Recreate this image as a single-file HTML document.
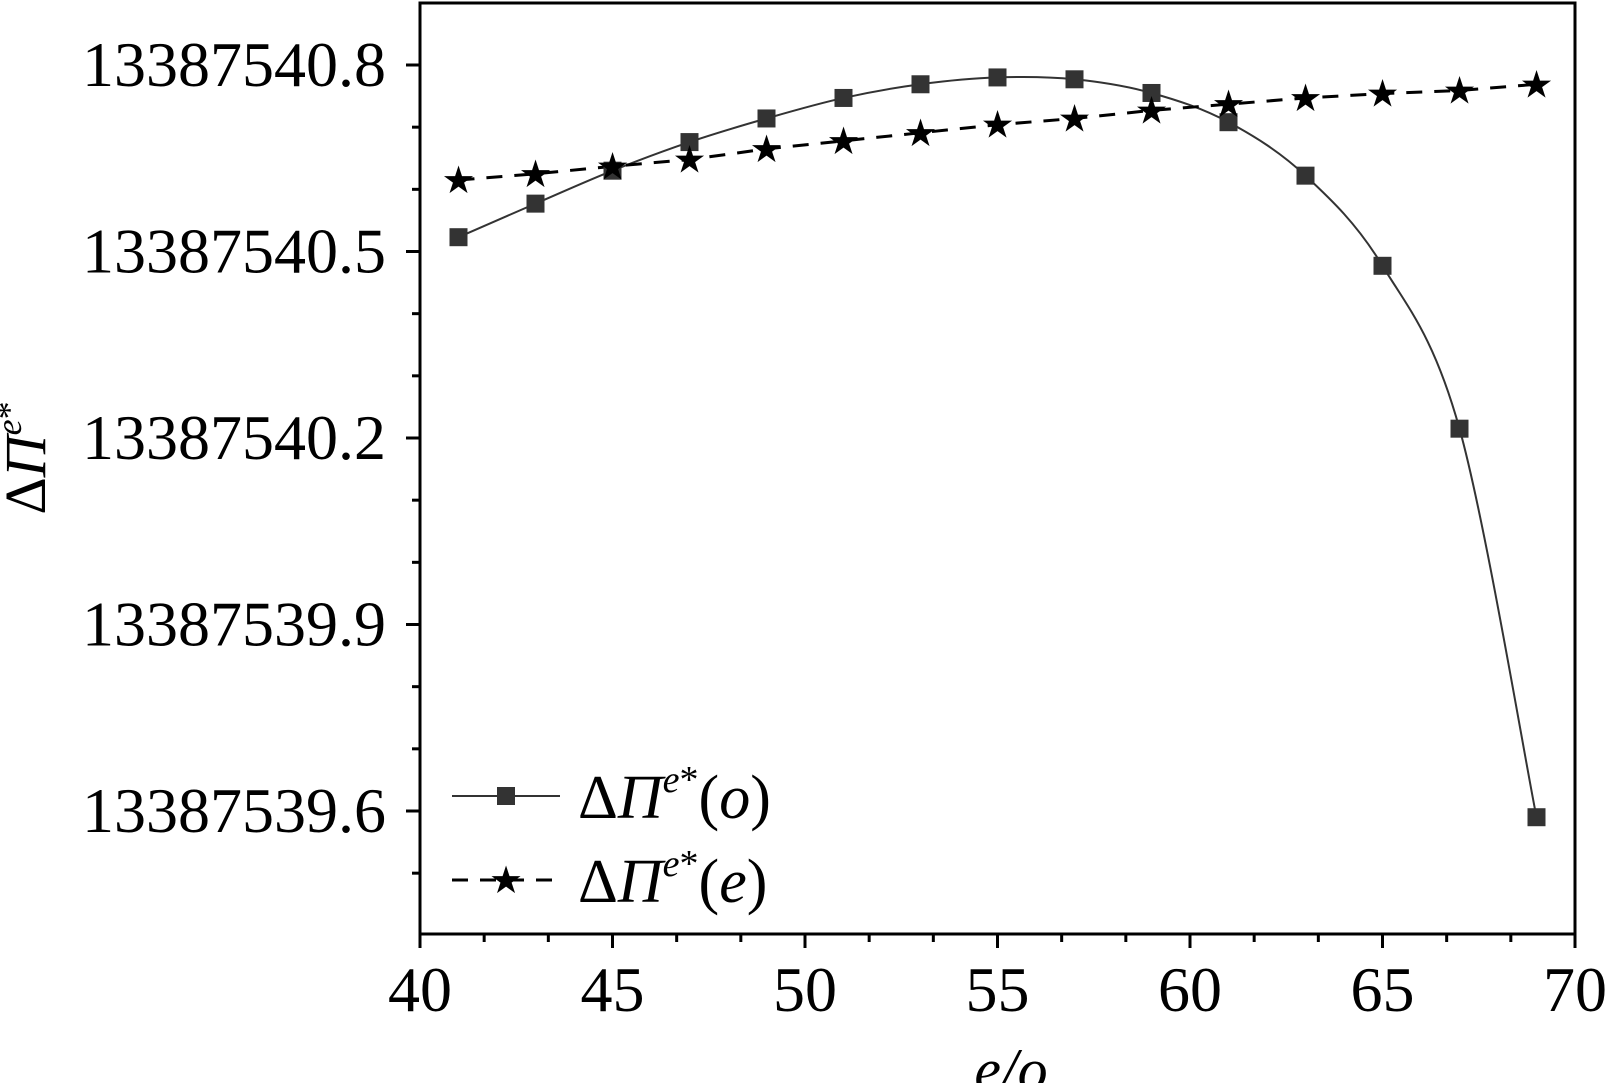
<!DOCTYPE html>
<html><head><meta charset="utf-8"><style>
body{margin:0;background:#fff}
svg{display:block;font-family:"Liberation Serif","DejaVu Serif",serif}
</style></head><body>
<svg id="chart" width="1610" height="1083" viewBox="0 0 1610 1083" xmlns="http://www.w3.org/2000/svg">
<g id="axes"></g>
<g id="series"></g>
<g id="legend">
  <line x1="452" y1="796" x2="560" y2="796" stroke="#333" stroke-width="2"/>
  <rect x="497" y="787" width="18" height="18" fill="#333"/>
  <text x="578" y="818" font-size="62">Δ<tspan font-style="italic">Π</tspan><tspan font-style="italic" font-size="38" dy="-26">e</tspan><tspan font-size="38">*</tspan><tspan dy="26">(</tspan><tspan font-style="italic">o</tspan>)</text>
  <line x1="452" y1="880" x2="560" y2="880" stroke="#000" stroke-width="3" stroke-dasharray="16,12"/>
  <text x="506" y="893" font-size="38" text-anchor="middle">★</text>
  <text x="578" y="902" font-size="62">Δ<tspan font-style="italic">Π</tspan><tspan font-style="italic" font-size="38" dy="-26">e</tspan><tspan font-size="38">*</tspan><tspan dy="26">(</tspan><tspan font-style="italic">e</tspan>)</text>
</g>
<text transform="translate(45,458) rotate(-90)" text-anchor="middle" font-size="58">Δ<tspan font-style="italic">Π</tspan><tspan font-style="italic" font-size="36" dy="-24">e</tspan><tspan font-size="36">*</tspan></text>
<text x="1011" y="1090" text-anchor="middle" font-size="60" font-style="italic">e/o</text>
</svg>
<script>
const xCats = [41,43,45,47,49,51,53,55,57,59,61,63,65,67,69];
const seriesO = [13387540.523,13387540.577,13387540.630,13387540.676,13387540.714,13387540.747,13387540.769,13387540.780,13387540.777,13387540.755,13387540.708,13387540.622,13387540.477,13387540.215,13387539.590];
const seriesE = [13387540.615,13387540.625,13387540.637,13387540.648,13387540.665,13387540.678,13387540.691,13387540.704,13387540.714,13387540.727,13387540.737,13387540.747,13387540.754,13387540.759,13387540.769];
const xTicks = [40,45,50,55,60,65,70];
const yTicks = [13387539.6,13387539.9,13387540.2,13387540.5,13387540.8];
const yTickLabels = ["13387539.6","13387539.9","13387540.2","13387540.5","13387540.8"];

const L=420,R=1575,T=3,B=934;
const Y0=13387539.6, Y0px=811, pxPerUnit=186.5/0.3;
function xs(v){return L+(v-40)*(R-L)/30;}
function ys(v){return Y0px-(v-Y0)*pxPerUnit;}
const NS="http://www.w3.org/2000/svg";
function mk(tag,attrs,parent){const e=document.createElementNS(NS,tag);for(const k in attrs)e.setAttribute(k,attrs[k]);parent.appendChild(e);return e;}
const ax=document.getElementById('axes');
let fr=mk('rect',{x:L,y:T,width:R-L,height:B-T,fill:'none',stroke:'#000','stroke-width':3},ax);


xTicks.forEach((t,i)=>{
  const x=xs(t);
  let l=mk('line',{x1:x,y1:B,x2:x,y2:B+14,stroke:'#000','stroke-width':3},ax);
  
  
  let tx=mk('text',{x:x,y:1011,'text-anchor':'middle','font-size':64},ax);
  tx.textContent=t;
  
  
  if(i<xTicks.length-1){for(let k=1;k<3;k++){const xm=xs(t+5*k/3);
    let m=mk('line',{x1:xm,y1:B,x2:xm,y2:B+8,stroke:'#000','stroke-width':3},ax);
    
    }}
});
yTicks.forEach((t,i)=>{
  const y=ys(t);
  let l=mk('line',{x1:L-14,y1:y,x2:L,y2:y,stroke:'#000','stroke-width':3},ax);
  
  
  let tx=mk('text',{x:386,y:y+21,'text-anchor':'end','font-size':64},ax);
  tx.textContent=yTickLabels[i];
  
  
});
for(let v=13387539.5;v<=13387540.95;v+=0.1){
  const y=ys(v); if(y<T+2||y>B-2)continue;
  let m=mk('line',{x1:L-8,y1:y,x2:L,y2:y,stroke:'#000','stroke-width':3},ax);
  
  
}
const sg=document.getElementById('series');
// smooth curve for O series (Catmull-Rom)
const pO=xCats.map((c,i)=>[xs(c),ys(seriesO[i])]);
let d='M'+pO[0][0]+','+pO[0][1];
for(let i=0;i<pO.length-1;i++){
  const p0=pO[Math.max(0,i-1)],p1=pO[i],p2=pO[i+1],p3=pO[Math.min(pO.length-1,i+2)];
  const c1=[p1[0]+(p2[0]-p0[0])/6,p1[1]+(p2[1]-p0[1])/6];
  const c2=[p2[0]-(p3[0]-p1[0])/6,p2[1]-(p3[1]-p1[1])/6];
  d+=' C'+c1[0]+','+c1[1]+' '+c2[0]+','+c2[1]+' '+p2[0]+','+p2[1];
}
let po=mk('path',{d:d,fill:'none',stroke:'#333','stroke-width':2},sg);


const pE=xCats.map((c,i)=>xs(c)+','+ys(seriesE[i])).join(' ');
let pe=mk('polyline',{points:pE,fill:'none',stroke:'#000','stroke-width':3,'stroke-dasharray':'16,12'},sg);


xCats.forEach((c,i)=>{
  let r=mk('rect',{x:xs(c)-9,y:ys(seriesO[i])-9,width:18,height:18,fill:'#333'},sg);
  
  
  let s=mk('text',{x:xs(c),y:ys(seriesE[i])+13,'text-anchor':'middle','font-size':38,fill:'#000'},sg);
  s.textContent='★';
  
  
});
</script>
</body></html>
